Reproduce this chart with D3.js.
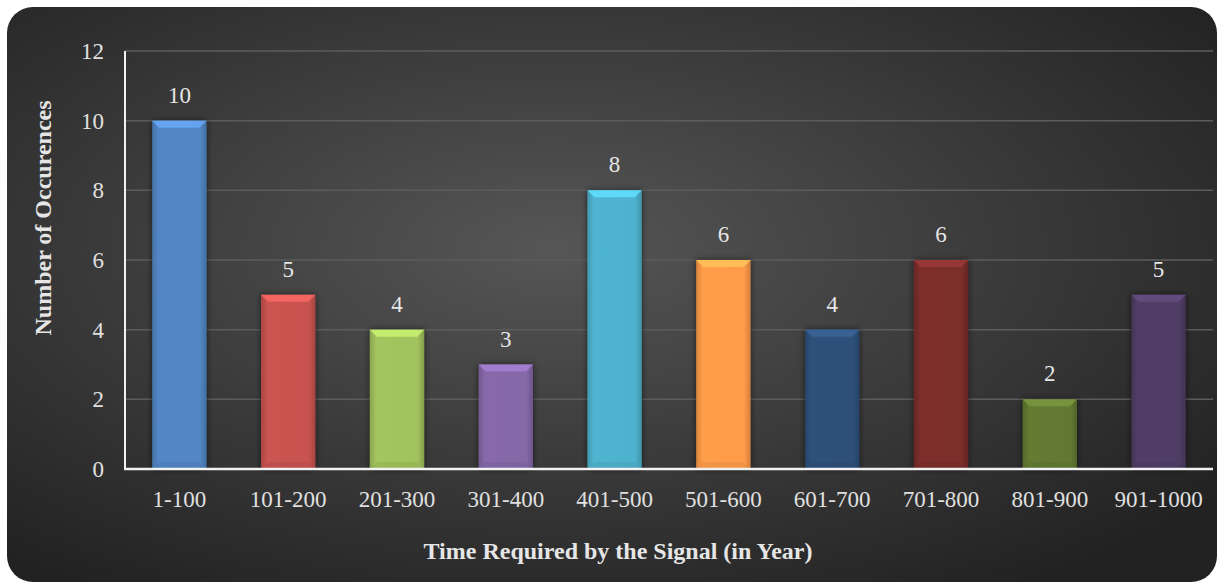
<!DOCTYPE html>
<html><head><meta charset="utf-8">
<script src="https://cdn.jsdelivr.net/npm/d3@7"></script>
<style>html,body{margin:0;padding:0;background:#fff;}svg{display:block;}</style>
</head><body>
<svg id="c" width="1218" height="582"></svg>
<script>
const categories = ["1-100","101-200","201-300","301-400","401-500","501-600","601-700","701-800","801-900","901-1000"];
const values = [10,5,4,3,8,6,4,6,2,5];
const yTicks = [0,2,4,6,8,10,12];
const barColors = ["#4F81BD","#C0504D","#9BBB59","#8064A2","#4BACC6","#F79646","#2C4D75","#772C2A","#5F7530","#4D3B62"];
const yTitle = "Number of Occurences";
const xTitle = "Time Required by the Signal (in Year)";

const FONT = "'Liberation Serif','Times New Roman',serif";
const svg = d3.select("#c");
const defs = svg.append("defs");
const bg = defs.append("radialGradient").attr("id","bg").attr("cx","45%").attr("cy","42%").attr("r","70%");
bg.append("stop").attr("offset","0%").attr("stop-color","#565656");
bg.append("stop").attr("offset","100%").attr("stop-color","#222222");
const sh = defs.append("filter").attr("id","sh").attr("x","-20%").attr("y","-10%").attr("width","140%").attr("height","130%");
sh.append("feDropShadow").attr("dx",0).attr("dy",0).attr("stdDeviation",3).attr("flood-color","#000").attr("flood-opacity",0.6);

barColors.forEach((c,i)=>{
  const g = defs.append("linearGradient").attr("id","bar"+i).attr("x1","0").attr("x2","1").attr("y1","0").attr("y2","0");
  g.append("stop").attr("offset","0%").attr("stop-color",d3.color(c).darker(0.35));
  g.append("stop").attr("offset","12%").attr("stop-color",d3.color(c).brighter(0.15));
  g.append("stop").attr("offset","88%").attr("stop-color",d3.color(c).brighter(0.1));
  g.append("stop").attr("offset","100%").attr("stop-color",d3.color(c).darker(0.45));
});

svg.append("rect").attr("x",7).attr("y",7).attr("width",1210).attr("height",575).attr("rx",26).attr("ry",26).attr("fill","url(#bg)");

const m = {l:125, r:1213, t:51, b:469};
const x = d3.scaleBand().domain(categories).range([m.l,m.r]).paddingInner(0.5).paddingOuter(0.25);
const y = d3.scaleLinear().domain([0,12]).range([m.b,m.t]);

// gridlines
svg.append("g").selectAll("line").data(yTicks.filter(t=>t>0)).join("line")
  .attr("x1",m.l).attr("x2",m.r).attr("y1",d=>y(d)).attr("y2",d=>y(d))
  .attr("stroke","#5c5c5c").attr("stroke-width",1.5);

// bars
const bars = svg.append("g").selectAll("g").data(values).join("g");
bars.append("rect").attr("x",(d,i)=>x(categories[i])).attr("width",x.bandwidth())
  .attr("y",d=>y(d)).attr("height",d=>y(0)-y(d)).attr("fill",(d,i)=>`url(#bar${i})`).attr("filter","url(#sh)");
const bev = 7;
bars.append("polygon").attr("points",(d,i)=>{
  const x0=x(categories[i]), x1=x0+x.bandwidth(), yt=y(d);
  return `${x0},${yt} ${x1},${yt} ${x1-bev},${yt+bev} ${x0+bev},${yt+bev}`;
}).attr("fill",(d,i)=>d3.color(barColors[i]).brighter(0.7)).attr("opacity",0.9);
bars.append("polygon").attr("points",(d,i)=>{
  const x0=x(categories[i]), x1=x0+x.bandwidth(), yb=y(0);
  return `${x0},${yb} ${x1},${yb} ${x1-bev},${yb-bev} ${x0+bev},${yb-bev}`;
}).attr("fill",(d,i)=>d3.color(barColors[i]).darker(0.2)).attr("opacity",0.5);

// value labels
svg.append("g").selectAll("text").data(values).join("text")
  .attr("x",(d,i)=>x(categories[i])+x.bandwidth()/2).attr("y",d=>y(d)-18)
  .attr("text-anchor","middle").attr("font-family",FONT)
  .attr("font-size",23).attr("fill","#e6e6e6").text(d=>d);

// y axis
const ya = svg.append("g").attr("transform",`translate(${m.l},0)`)
  .call(d3.axisLeft(y).tickValues(yTicks).tickSize(0).tickPadding(21));
ya.select(".domain").remove();
ya.selectAll("text").attr("font-family",FONT).attr("font-size",23).attr("fill","#e0e0e0");

// x axis
const xa = svg.append("g").attr("transform",`translate(0,${m.b})`)
  .call(d3.axisBottom(x).tickSize(0).tickPadding(0));
xa.select(".domain").remove();
xa.selectAll("text").attr("font-family",FONT).attr("font-size",23).attr("fill","#e0e0e0")
  .attr("dy",null).attr("y",38);

// axis lines
svg.append("line").attr("x1",m.l).attr("x2",m.l).attr("y1",m.t).attr("y2",m.b+1).attr("stroke","#f2f2f2").attr("stroke-width",2);
svg.append("line").attr("x1",m.l-1).attr("x2",m.r).attr("y1",m.b).attr("y2",m.b).attr("stroke","#f2f2f2").attr("stroke-width",2.5);

// titles
svg.append("text").attr("transform",`translate(51,218) rotate(-90)`).attr("text-anchor","middle")
  .attr("font-family",FONT).attr("font-weight","bold").attr("font-size",24)
  .attr("fill","#e6e6e6").text(yTitle);
svg.append("text").attr("x",618).attr("y",559).attr("text-anchor","middle")
  .attr("font-family",FONT).attr("font-weight","bold").attr("font-size",24)
  .attr("fill","#e6e6e6").text(xTitle);
</script>
</body></html>
